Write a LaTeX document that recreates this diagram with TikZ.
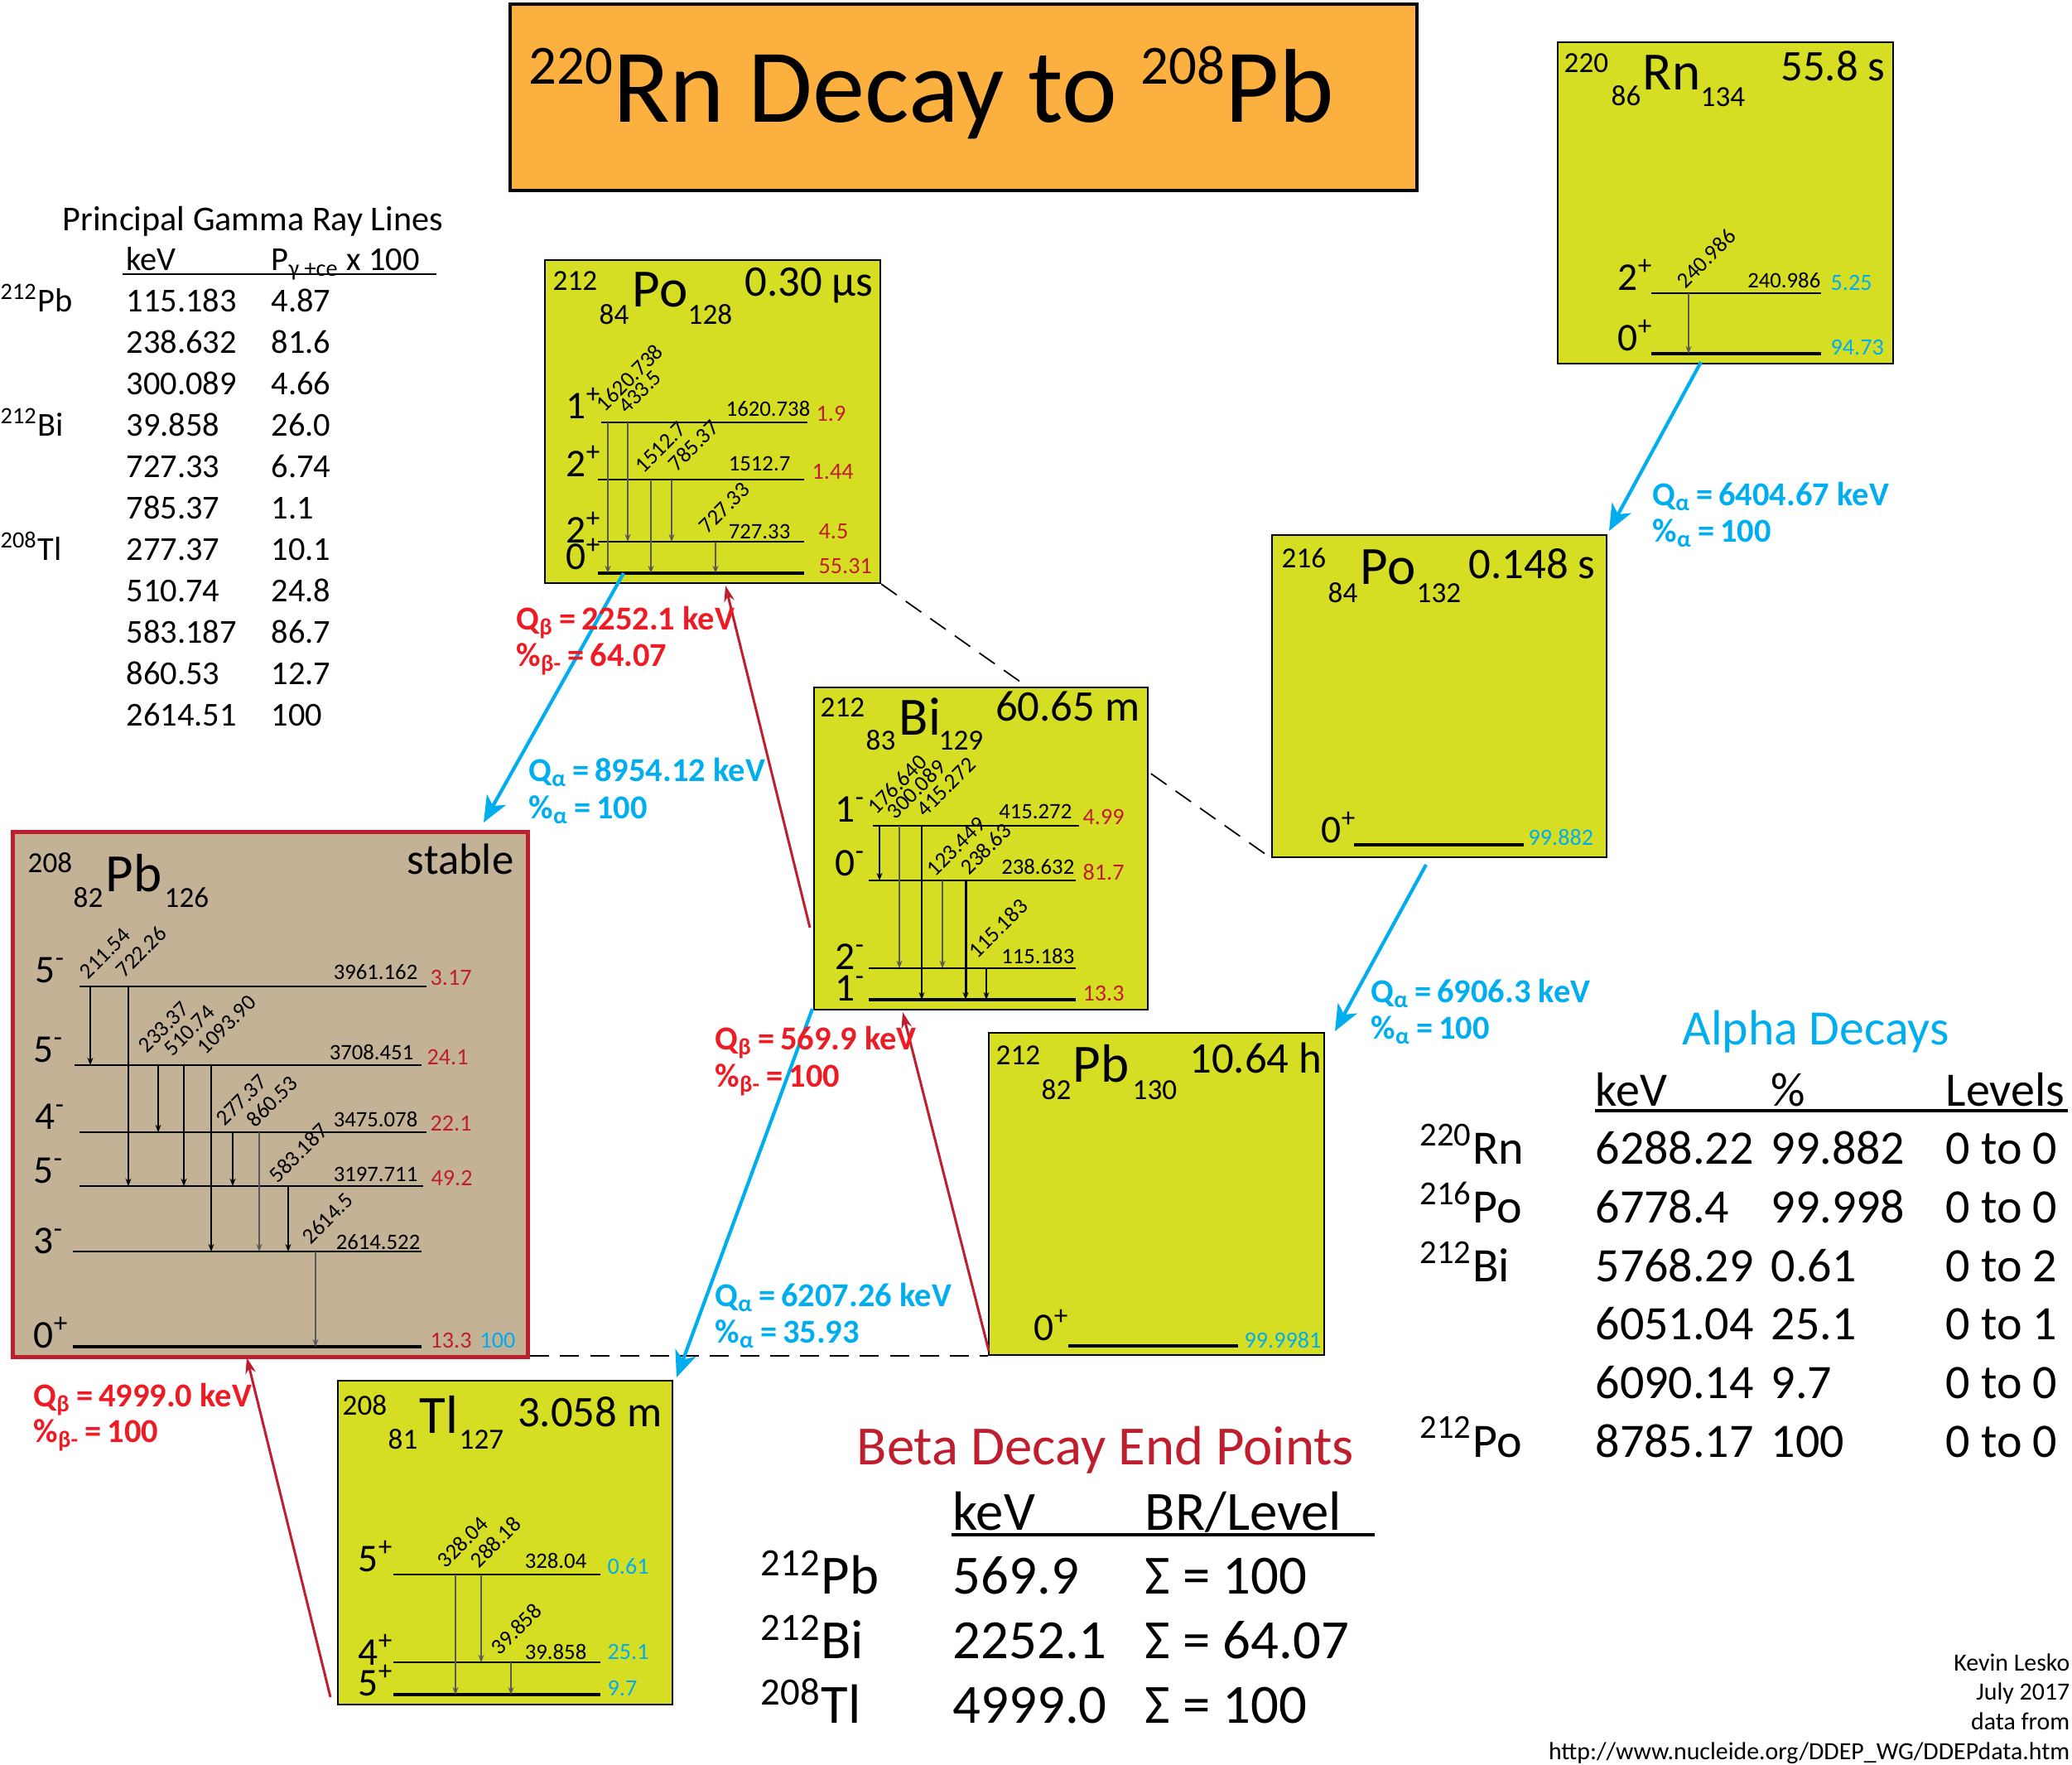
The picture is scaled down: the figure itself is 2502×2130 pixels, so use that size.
\documentclass[tikz,border=0pt]{standalone}
\usepackage{fontspec}
\setmainfont{Carlito}
\usetikzlibrary{arrows.meta}

\definecolor{nucfill}{RGB}{214,222,35}
\definecolor{stabfill}{RGB}{196,178,150}
\definecolor{ttlfill}{RGB}{251,176,64}
\definecolor{acyan}{RGB}{0,174,239}
\definecolor{bred}{RGB}{190,30,45}
\definecolor{qred}{RGB}{237,28,36}

\begin{document}
\begin{tikzpicture}[x=0.1mm, y=-0.1mm,
    nuc/.style={draw, line width=.6pt, fill=nucfill, anchor=north west, inner sep=0pt},
    mass/.style={font=\fontsize{10}{12}\selectfont, anchor=base west, inner sep=0pt},
    sym/.style={font=\fontsize{18.5}{20}\selectfont, anchor=base west, inner sep=0pt},
    hl/.style={font=\fontsize{15}{18}\selectfont, anchor=base east, inner sep=0pt},
    spin/.style={font=\fontsize{13.5}{15}\selectfont, anchor=base west, inner sep=0pt},
    en/.style={font=\fontsize{7.6}{9}\selectfont, anchor=base east, inner sep=0pt},
    ia/.style={font=\fontsize{8}{9}\selectfont, anchor=base west, inner sep=0pt, text=acyan},
    ib/.style={ia, text=bred},
    gl/.style={font=\fontsize{7.6}{9}\selectfont, anchor=base west, inner sep=0pt, rotate=45},
    lvl/.style={line width=.4pt},
    gnd/.style={line width=1.05pt},
    gam/.style={black!65, line width=.35pt, -{Stealth[length=2.6pt,width=2pt]}},
    gamk/.style={gam, black},
    alph/.style={acyan, line width=1.2pt, -{Stealth[length=9pt,width=7.5pt,inset=2.5pt]}},
    bet/.style={bred, line width=.85pt, -{Stealth[length=5.5pt,width=3.6pt]}},
    dline/.style={line width=.5pt, dash pattern=on 6.5pt off 3.8pt},
    qlb/.style={font=\fontsize{11.5}{13}\selectfont\bfseries, anchor=base west, inner sep=0pt},
    tbl/.style={anchor=north west, inner sep=0pt}]

  \useasboundingbox (0,0) rectangle (2502,2130);

  % title
  \node[draw, line width=1.2pt, fill=ttlfill, anchor=north west, inner sep=0pt,
        minimum width=109.5mm, minimum height=22.5mm] (ttlbox) at (614,3) {};
  \node[anchor=base west, inner sep=0pt, font=\fontsize{36}{40}\selectfont] (ttl) at (638,147)
    {\raisebox{13pt}{\fontsize{19}{20}\selectfont 220}Rn Decay to \raisebox{13pt}{\fontsize{19}{20}\selectfont 208}Pb};

  % 220Rn
  \begin{scope}[shift={(1880,50)}]
    \node[nuc, minimum width=40.5mm, minimum height=38.8mm] (rn) at (0,0) {};
    \node[mass] (rnA) at (8,37) {220};
    \node[mass] (rnZ) at (65,77) {86};
    \node[sym] (rnX) at (103,58) {Rn};
    \node[mass] (rnN) at (173,78) {134};
    \node[hl] (rnT) at (397,47) {55.8 s};
    \draw[lvl] (114,304) -- (319,304);
    \draw[gnd] (114,377) -- (319,377);
    \node[spin] (rnL1) at (73,300) {2\textsuperscript{+}};
    \node[spin] (rnL0) at (73,373) {0\textsuperscript{+}};
    \node[en] (rnE1) at (319,297) {240.986};
    \node[ia] (rnI1) at (330,300) {5.25};
    \node[ia] (rnI0) at (330,378) {94.73};
    \draw[gam] (159,304) -- (159,377);
    \node[gl] (rnG1) at (155,300) {240.986};
    \coordinate (rnout) at (174,387);
  \end{scope}

  % 216Po
  \begin{scope}[shift={(1535,645)}]
    \node[nuc, minimum width=40.4mm, minimum height=38.9mm] (po6) at (0,0) {};
    \node[mass] (po6A) at (12,40) {216};
    \node[mass] (po6Z) at (68,82) {84};
    \node[sym] (po6X) at (107,60) {Po};
    \node[mass] (po6N) at (175,82) {132};
    \node[hl] (po6T) at (392,53) {0.148 s};
    \draw[gnd] (100,375) -- (305,375);
    \node[spin] (po6L0) at (60,372) {0\textsuperscript{+}};
    \node[ia] (po6I0) at (310,375) {99.882};
    \coordinate (po6in) at (408,-4);
    \coordinate (po6out) at (187,399);
  \end{scope}

  % 212Po
  \begin{scope}[shift={(657,313)}]
    \node[nuc, minimum width=40.5mm, minimum height=39mm] (po2) at (0,0) {};
    \node[mass] (po2A) at (10,37) {212};
    \node[mass] (po2Z) at (66,78) {84};
    \node[sym] (po2X) at (106,57) {Po};
    \node[mass] (po2N) at (173,78) {128};
    \node[hl] (po2T) at (398,44) {0.30 μs};
    \draw[lvl] (69,197) -- (318,197);
    \draw[lvl] (65,266) -- (314,266);
    \draw[lvl] (65,341) -- (314,341);
    \draw[gnd] (65,379) -- (314,379);
    \node[spin] (po2L3) at (26,192) {1\textsuperscript{+}};
    \node[spin] (po2L2) at (26,262) {2\textsuperscript{+}};
    \node[spin] (po2L1) at (26,342) {2\textsuperscript{+}};
    \node[spin] (po2L0) at (26,374) {0\textsuperscript{+}};
    \node[en] (po2E3) at (322,189) {1620.738};
    \node[en] (po2E2) at (298,255) {1512.7};
    \node[en] (po2E1) at (298,337) {727.33};
    \node[ib] (po2I3) at (328,195) {1.9};
    \node[ib] (po2I2) at (323,265) {1.44};
    \node[ib] (po2I1) at (331,337) {4.5};
    \node[ib] (po2I0) at (331,379) {55.31};
    \draw[gam] (77,197) -- (77,379);
    \draw[gam] (101,197) -- (101,341);
    \draw[gam] (129,266) -- (129,379);
    \draw[gam] (154,266) -- (154,341);
    \draw[gam] (207,341) -- (207,379);
    \node[gl] (po2G1) at (73,186) {1620.738};
    \node[gl] (po2G2) at (100,188) {433.5};
    \node[gl] (po2G3) at (120,260) {1512.7};
    \node[gl] (po2G4) at (160,258) {785.37};
    \node[gl] (po2G5) at (197,333) {727.33};
    \coordinate (po2in) at (219,394);
    \coordinate (po2out) at (96,379);
  \end{scope}

  \draw[dline] (po2.south east) -- (po6.south west);

  % 212Bi
  \begin{scope}[shift={(982,829)}]
    \node[nuc, minimum width=40.3mm, minimum height=38.9mm] (bi) at (0,0) {};
    \node[mass] (biA) at (8,36) {212};
    \node[mass] (biZ) at (63,76) {83};
    \node[sym] (biX) at (103,58) {Bi};
    \node[mass] (biN) at (151,76) {129};
    \node[hl] (biT) at (395,41) {60.65 m};
    \draw[lvl] (72,168) -- (321,168);
    \draw[lvl] (67,234) -- (317,234);
    \draw[lvl] (67,340) -- (317,340);
    \draw[gnd] (67,378) -- (317,378);
    \node[spin] (biL3) at (26,163) {1\textsuperscript{-}};
    \node[spin] (biL2) at (26,228) {0\textsuperscript{-}};
    \node[spin] (biL1) at (26,341) {2\textsuperscript{-}};
    \node[spin] (biL0) at (26,379) {1\textsuperscript{-}};
    \node[en] (biE3) at (313,159) {415.272};
    \node[en] (biE2) at (316,226) {238.632};
    \node[en] (biE1) at (316,334) {115.183};
    \node[ib] (biI3) at (325,166) {4.99};
    \node[ib] (biI2) at (325,233) {81.7};
    \node[ib] (biI0) at (325,379) {13.3};
    \draw[gamk] (80,168) -- (80,234);
    \draw[gam] (104,168) -- (104,340);
    \draw[gamk] (131,168) -- (131,378);
    \draw[gam] (156,234) -- (156,340);
    \draw[gamk, line width=.85pt] (184,234) -- (184,378);
    \draw[gamk] (209,340) -- (209,378);
    \node[gl] (biG1) at (76,156) {176.640};
    \node[gl] (biG2) at (99,162) {300.089};
    \node[gl] (biG3) at (135,159) {415.272};
    \node[gl] (biG4) at (147,231) {123.449};
    \node[gl] (biG5) at (188,229) {238.63};
    \node[gl] (biG6) at (198,330) {115.183};
    \coordinate (biin) at (108,393);
    \coordinate (biout1) at (-4,291);
    \coordinate (biout2) at (-1,389);
  \end{scope}

  % 212Pb
  \begin{scope}[shift={(1193,1246)}]
    \node[nuc, minimum width=40.5mm, minimum height=38.9mm] (pb2) at (0,0) {};
    \node[mass] (pb2A) at (9,39) {212};
    \node[mass] (pb2Z) at (64,81) {82};
    \node[sym] (pb2X) at (102,60) {Pb};
    \node[mass] (pb2N) at (174,81) {130};
    \node[hl] (pb2T) at (404,49) {10.64 h};
    \draw[gnd] (97,379) -- (302,379);
    \node[spin] (pb2L0) at (55,372) {0\textsuperscript{+}};
    \node[ia] (pb2I0) at (309,381) {99.9981};
    \coordinate (pb2in) at (419,-1);
    \coordinate (pb2out) at (1,385);
  \end{scope}

  % 208Pb (stable)
  \begin{scope}[shift={(13,1002)}]
    \node[nuc, fill=stabfill, draw=bred, line width=1.5pt,
          minimum width=62.2mm, minimum height=63.4mm] (pb8) at (0,0) {};
    \node[mass] (pb8A) at (20,51) {208};
    \node[mass] (pb8Z) at (75,93) {82};
    \node[sym] (pb8X) at (114,74) {Pb};
    \node[mass] (pb8N) at (185,93) {126};
    \node[hl] (pb8T) at (608,53) {stable};
    \draw[lvl] (83,189) -- (502,189);
    \draw[lvl] (77,284) -- (496,284);
    \draw[lvl] (83,365) -- (502,365);
    \draw[lvl] (83,430) -- (498,430);
    \draw[lvl] (75,509) -- (496,509);
    \draw[gnd] (75,624) -- (496,624);
    \node[spin] (pb8L5) at (29,184) {5\textsuperscript{-}};
    \node[spin] (pb8L4) at (27,280) {5\textsuperscript{-}};
    \node[spin] (pb8L3) at (29,361) {4\textsuperscript{-}};
    \node[spin] (pb8L2) at (27,426) {5\textsuperscript{-}};
    \node[spin] (pb8L1) at (27,511) {3\textsuperscript{-}};
    \node[spin] (pb8L0) at (27,625) {0\textsuperscript{+}};
    \node[en] (pb8E5) at (492,180) {3961.162};
    \node[en] (pb8E4) at (487,277) {3708.451};
    \node[en] (pb8E3) at (492,358) {3475.078};
    \node[en] (pb8E2) at (492,424) {3197.711};
    \node[en] (pb8E1) at (495,506) {2614.522};
    \node[ib] (pb8I5) at (506,187) {3.17};
    \node[ib] (pb8I4) at (502,283) {24.1};
    \node[ib] (pb8I3) at (506,363) {22.1};
    \node[ib] (pb8I2) at (507,429) {49.2};
    \node[ib] (pb8I0) at (506,625) {13.3};
    \node[ia] (pb8J0) at (566,625) {100};
    \draw[gamk] (96,189) -- (96,284);
    \draw[gamk] (142,189) -- (142,430);
    \draw[gamk] (178,284) -- (178,365);
    \draw[gamk] (209,284) -- (209,430);
    \draw[gamk] (242,284) -- (242,509);
    \draw[gamk] (268,365) -- (268,430);
    \draw[gam] (300,365) -- (300,509);
    \draw[gamk] (335,430) -- (335,509);
    \draw[gam] (368,509) -- (368,624);
    \node[gl] (pb8G1) at (93,182) {211.54};
    \node[gl] (pb8G2) at (137,180) {722.26};
    \node[gl] (pb8G3) at (164,271) {233.37};
    \node[gl] (pb8G4) at (195,275) {510.74};
    \node[gl] (pb8G5) at (235,273) {1093.90};
    \node[gl] (pb8G6) at (258,359) {277.37};
    \node[gl] (pb8G7) at (295,361) {860.53};
    \node[gl] (pb8G8) at (322,428) {583.187};
    \node[gl] (pb8G9) at (362,502) {2614.5};
    \coordinate (pb8in1) at (571,-9);
    \coordinate (pb8in2) at (285,637);
  \end{scope}

  % 208Tl
  \begin{scope}[shift={(407,1666)}]
    \node[nuc, minimum width=40.4mm, minimum height=39.1mm] (tl) at (0,0) {};
    \node[mass] (tlA) at (6,42) {208};
    \node[mass] (tlZ) at (61,83) {81};
    \node[sym] (tlX) at (99,64) {Tl};
    \node[mass] (tlN) at (147,83) {127};
    \node[hl] (tlT) at (393,56) {3.058 m};
    \draw[lvl] (68,235) -- (318,235);
    \draw[lvl] (68,341) -- (318,341);
    \draw[gnd] (68,380) -- (318,380);
    \node[spin] (tlL2) at (25,231) {5\textsuperscript{+}};
    \node[spin] (tlL1) at (25,344) {4\textsuperscript{+}};
    \node[spin] (tlL0) at (25,381) {5\textsuperscript{+}};
    \node[en] (tlE2) at (302,227) {328.04};
    \node[en] (tlE1) at (302,337) {39.858};
    \node[ia] (tlI2) at (326,234) {0.61};
    \node[ia] (tlI1) at (326,337) {25.1};
    \node[ia] (tlI0) at (326,381) {9.7};
    \draw[gam] (143,235) -- (143,380);
    \draw[gam] (174,235) -- (174,341);
    \draw[gam] (210,341) -- (210,380);
    \node[gl] (tlG1) at (131,229) {328.04};
    \node[gl] (tlG2) at (171,229) {288.18};
    \node[gl] (tlG3) at (196,334) {39.858};
    \coordinate (tlin) at (410,-3);
    \coordinate (tlout) at (-8,383);
  \end{scope}

  \draw[dline] (pb8.east |- pb2.south west) -- (pb2.south west);

  % decays
  \draw[alph] (rnout) -- (po6in);
  \draw[alph] (po6out) -- (pb2in);
  \draw[alph] (po2out) -- (pb8in1);
  \draw[alph] (biout2) -- (tlin);
  \draw[bet] (pb2out) -- (biin);
  \draw[bet] (biout1) -- (po2in);
  \draw[bet] (tlout) -- (pb8in2);

  \node[qlb, text=acyan] (qa1) at (1995,610) {Q\textsubscript{α}\,=\,6404.67 keV};
  \node[qlb, text=acyan] (pa1) at (1995,654) {\%\textsubscript{α}\,=\,100};
  \node[qlb, text=acyan] (qa2) at (1655,1210) {Q\textsubscript{α}\,=\,6906.3 keV};
  \node[qlb, text=acyan] (pa2) at (1655,1254) {\%\textsubscript{α}\,=\,100};
  \node[qlb, text=acyan] (qa3) at (638,943) {Q\textsubscript{α}\,=\,8954.12 keV};
  \node[qlb, text=acyan] (pa3) at (638,988) {\%\textsubscript{α}\,=\,100};
  \node[qlb, text=acyan] (qa4) at (863,1577) {Q\textsubscript{α}\,=\,6207.26 keV};
  \node[qlb, text=acyan] (pa4) at (863,1621) {\%\textsubscript{α}\,=\,35.93};
  \node[qlb, text=qred] (qb1) at (863,1267) {Q\textsubscript{β}\,=\,569.9 keV};
  \node[qlb, text=qred] (pb1) at (863,1312) {\%\textsubscript{β-}\,=\,100};
  \node[qlb, text=qred] (qb2) at (623,760) {Q\textsubscript{β}\,=\,2252.1 keV};
  \node[qlb, text=qred] (pb2l) at (623,804) {\%\textsubscript{β-}\,=\,64.07};
  \node[qlb, text=qred] (qb3) at (40,1698) {Q\textsubscript{β}\,=\,4999.0 keV};
  \node[qlb, text=qred] (pb3) at (40,1741) {\%\textsubscript{β-}\,=\,100};

  % gamma lines table
  \node[anchor=base west, inner sep=0pt, font=\fontsize{12}{14}\selectfont] (gttl) at (75,278)
    {Principal Gamma Ray Lines};
  \node[tbl, font=\fontsize{11.5}{14.23}\selectfont] (gtab) at (0,291) {%
    \begin{tabular}{@{}p{15.2mm}@{}p{17.5mm}@{}l@{}}
      & keV & P\textsubscript{γ +ce} x 100\\
      \textsuperscript{212}Pb & 115.183 & 4.87\\
      & 238.632 & 81.6\\
      & 300.089 & 4.66\\
      \textsuperscript{212}Bi & 39.858 & 26.0\\
      & 727.33 & 6.74\\
      & 785.37 & 1.1\\
      \textsuperscript{208}Tl & 277.37 & 10.1\\
      & 510.74 & 24.8\\
      & 583.187 & 86.7\\
      & 860.53 & 12.7\\
      & 2614.51 & 100
    \end{tabular}};
  \draw[line width=.6pt] (148,331) -- (527,331);

  % alpha table
  \node[anchor=base west, inner sep=0pt, text=acyan, font=\fontsize{17}{20}\selectfont] (attl) at (2031,1261)
    {Alpha Decays};
  \node[tbl, font=\fontsize{16.5}{20.1}\selectfont] (atab) at (1714,1285) {%
    \begin{tabular}{@{}p{21.2mm}@{}p{21.2mm}@{}p{21.1mm}@{}l@{}}
      & keV & \% & Levels\\
      \textsuperscript{220}Rn & 6288.22 & 99.882 & 0 to 0\\
      \textsuperscript{216}Po & 6778.4 & 99.998 & 0 to 0\\
      \textsuperscript{212}Bi & 5768.29 & 0.61 & 0 to 2\\
      & 6051.04 & 25.1 & 0 to 1\\
      & 6090.14 & 9.7 & 0 to 0\\
      \textsuperscript{212}Po & 8785.17 & 100 & 0 to 0
    \end{tabular}};
  \draw[line width=.9pt] (1926,1341) -- (2497,1341);

  % beta table
  \node[anchor=base west, inner sep=0pt, text=bred, font=\fontsize{19}{22}\selectfont] (bttl) at (1034,1768)
    {Beta Decay End Points};
  \node[tbl, font=\fontsize{19}{22.1}\selectfont] (btab) at (918,1792) {%
    \begin{tabular}{@{}p{23.2mm}@{}p{23.2mm}@{}l@{}}
      & keV & BR/Level\\
      \textsuperscript{212}Pb & 569.9 & Σ = 100\\
      \textsuperscript{212}Bi & 2252.1 & Σ = 64.07\\
      \textsuperscript{208}Tl & 4999.0 & Σ = 100
    \end{tabular}};
  \draw[line width=.9pt] (1149,1853) -- (1660,1853);

  % credits
  \node[anchor=south east, align=right, inner sep=0pt, font=\fontsize{8.5}{10.15}\selectfont] (cred) at (2500,2130)
    {Kevin Lesko\\July 2017\\data from\\http://www.nucleide.org/DDEP\_WG/DDEPdata.htm};
\end{tikzpicture}
\end{document}
